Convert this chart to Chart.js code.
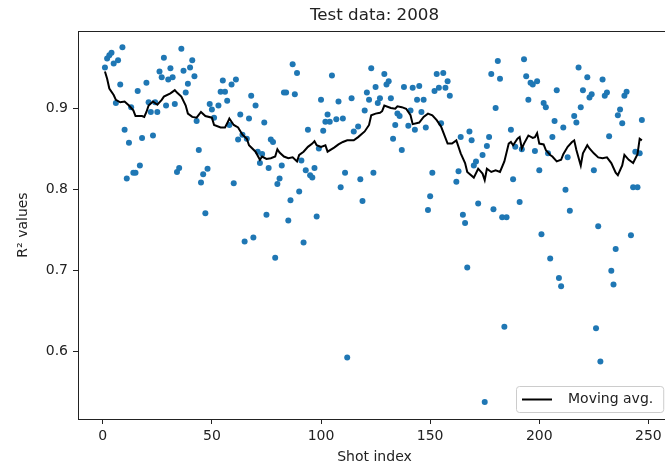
<!DOCTYPE html>
<html>
<head>
<meta charset="utf-8">
<script src="https://cdn.jsdelivr.net/npm/chart.js@4.4.1/dist/chart.umd.min.js"></script>
<style>
  html, body { margin: 0; padding: 0; background: #ffffff; overflow: hidden; width: 665px; height: 464px; }
  canvas { display: block; }
</style>
</head>
<body>
<canvas id="chart" width="680" height="464"></canvas>
<script>
// Texts
const chartTitle = 'Test data: 2008';
const xTitle = 'Shot index';
const yTitle = 'R\u00B2 values';
const avgLabel = 'Moving avg.';

// Tick labels
const xTicks = [0, 50, 100, 150, 200, 250];
const yTicks = [0.6, 0.7, 0.8, 0.9];

// Per-shot R² values
const shotIndex = [
  1, 2, 3, 4, 5, 6, 7, 8, 9, 10, 11, 12, 13, 14, 15, 16, 17, 18, 20, 21,
  22, 23, 24, 25, 26, 27, 28, 29, 30, 31, 32, 33, 34, 35, 36, 37, 38, 39, 40, 41,
  42, 43, 44, 45, 46, 47, 48, 49, 50, 51, 53, 54, 55, 56, 57, 58, 59, 60, 61, 62,
  63, 64, 65, 66, 67, 68, 69, 70, 71, 72, 73, 74, 75, 76, 77, 78, 79, 80, 81, 82,
  83, 84, 85, 86, 87, 88, 89, 90, 91, 92, 93, 94, 95, 96, 97, 98, 99, 100, 101, 102,
  103, 104, 105, 107, 108, 109, 110, 111, 112, 114, 115, 117, 118, 119, 120, 121, 122, 123, 124, 125,
  126, 127, 129, 130, 131, 132, 133, 134, 135, 136, 137, 138, 140, 141, 142, 143, 144, 145, 146, 147,
  148, 149, 150, 151, 152, 153, 154, 155, 156, 157, 158, 159, 162, 163, 164, 165, 166, 167, 168, 169,
  170, 171, 172, 174, 175, 176, 177, 178, 179, 180, 181, 182, 183, 184, 185, 187, 188, 189, 191, 192,
  193, 194, 195, 196, 197, 198, 199, 200, 201, 202, 203, 204, 205, 206, 207, 208, 209, 210, 211, 212,
  213, 214, 216, 217, 218, 219, 220, 222, 223, 224, 225, 226, 227, 228, 229, 230, 231, 232, 233, 234,
  235, 236, 237, 238, 239, 240, 242, 243, 244, 245, 246, 247
];
const r2Values = [
  0.951, 0.962, 0.966, 0.969, 0.956, 0.907, 0.960, 0.930, 0.976, 0.874, 0.814, 0.858, 0.902, 0.821, 0.821, 0.922, 0.830, 0.864, 0.932, 0.908,
  0.896, 0.867, 0.908, 0.896, 0.946, 0.939, 0.963, 0.904, 0.936, 0.950, 0.939, 0.906, 0.822, 0.827, 0.974, 0.947, 0.920, 0.931, 0.951, 0.960,
  0.940, 0.885, 0.849, 0.809, 0.819, 0.771, 0.826, 0.906, 0.899, 0.889, 0.904, 0.921, 0.935, 0.921, 0.910, 0.880, 0.930, 0.808, 0.936, 0.862,
  0.893, 0.868, 0.736, 0.863, 0.888, 0.916, 0.741, 0.904, 0.847, 0.833, 0.844, 0.883, 0.769, 0.827, 0.862, 0.859, 0.716, 0.807, 0.814, 0.830,
  0.920, 0.920, 0.762, 0.787, 0.955, 0.918, 0.944, 0.798, 0.836, 0.735, 0.824, 0.874, 0.818, 0.815, 0.827, 0.767, 0.851, 0.911, 0.873, 0.884,
  0.893, 0.884, 0.941, 0.887, 0.909, 0.803, 0.888, 0.821, 0.593, 0.913, 0.872, 0.878, 0.813, 0.786, 0.898, 0.920, 0.911, 0.950, 0.821, 0.927,
  0.907, 0.913, 0.943, 0.930, 0.934, 0.913, 0.863, 0.880, 0.894, 0.891, 0.849, 0.927, 0.879, 0.898, 0.926, 0.874, 0.911, 0.928, 0.896, 0.911,
  0.877, 0.775, 0.792, 0.821, 0.922, 0.943, 0.926, 0.882, 0.944, 0.926, 0.934, 0.916, 0.810, 0.823, 0.865, 0.769, 0.759, 0.704, 0.872, 0.861,
  0.830, 0.835, 0.783, 0.843, 0.538, 0.854, 0.865, 0.943, 0.776, 0.901, 0.959, 0.937, 0.766, 0.631, 0.766, 0.874, 0.813, 0.853, 0.785, 0.850,
  0.961, 0.940, 0.911, 0.932, 0.930, 0.848, 0.934, 0.824, 0.745, 0.907, 0.902, 0.845, 0.715, 0.865, 0.885, 0.923, 0.691, 0.681, 0.877, 0.800,
  0.840, 0.774, 0.891, 0.883, 0.951, 0.902, 0.923, 0.939, 0.914, 0.918, 0.824, 0.629, 0.755, 0.588, 0.936, 0.916, 0.920, 0.866, 0.700, 0.683,
  0.727, 0.892, 0.899, 0.882, 0.916, 0.921, 0.744, 0.803, 0.847, 0.803, 0.845, 0.886
];

// Moving average of R²
const avgIndex = [
  1, 2, 3, 5, 6, 8, 10, 12, 14, 15, 18, 19, 20, 21, 23, 25, 27, 28, 31, 33,
  34, 36, 38, 39, 41, 43, 45, 47, 50, 51, 54, 56, 57, 58, 60, 62, 64, 66, 67, 70,
  72, 73, 75, 77, 79, 80, 81, 83, 85, 87, 89, 90, 92, 94, 96, 97, 98, 100, 102, 103,
  106, 108, 110, 112, 115, 117, 120, 122, 123, 125, 127, 128, 129, 132, 134, 135, 137, 139, 141, 142,
  145, 147, 149, 151, 153, 155, 158, 160, 162, 164, 166, 167, 170, 172, 174, 175, 176, 178, 180, 182,
  184, 186, 187, 188, 190, 191, 192, 193, 195, 197, 198, 199, 200, 202, 203, 205, 206, 208, 210, 211,
  213, 215, 216, 217, 219, 220, 222, 223, 225, 227, 229, 231, 233, 235, 236, 238, 239, 241, 243, 245,
  246, 247
];
const avgValues = [
  0.946, 0.937, 0.925, 0.917, 0.911, 0.908, 0.909, 0.904, 0.898, 0.891, 0.891, 0.890, 0.896, 0.904, 0.909, 0.905, 0.911, 0.915, 0.919, 0.923,
  0.920, 0.915, 0.904, 0.894, 0.890, 0.889, 0.896, 0.891, 0.889, 0.880, 0.877, 0.877, 0.882, 0.888, 0.880, 0.877, 0.868, 0.863, 0.855, 0.847,
  0.837, 0.841, 0.838, 0.839, 0.841, 0.850, 0.846, 0.841, 0.839, 0.840, 0.835, 0.843, 0.847, 0.853, 0.857, 0.860, 0.855, 0.853, 0.855, 0.847,
  0.852, 0.856, 0.859, 0.861, 0.861, 0.865, 0.872, 0.880, 0.892, 0.894, 0.895, 0.897, 0.904, 0.901, 0.900, 0.903, 0.902, 0.900, 0.892, 0.881,
  0.883, 0.890, 0.894, 0.892, 0.886, 0.878, 0.857, 0.857, 0.861, 0.845, 0.833, 0.822, 0.815, 0.826, 0.820, 0.812, 0.826, 0.822, 0.824, 0.822,
  0.835, 0.857, 0.859, 0.855, 0.863, 0.865, 0.851, 0.857, 0.867, 0.864, 0.865, 0.870, 0.857, 0.856, 0.849, 0.843, 0.841, 0.835, 0.837, 0.844,
  0.853, 0.859, 0.861, 0.849, 0.830, 0.845, 0.855, 0.851, 0.845, 0.840, 0.839, 0.840, 0.833, 0.821, 0.818, 0.830, 0.843, 0.837, 0.833, 0.844,
  0.863, 0.861
];

const X_MIN = -11.35, X_MAX = 260.35;
const Y_MIN = 0.517, Y_MAX = 0.996;

const INK = '#222222';
Chart.defaults.font.family = '"DejaVu Sans", sans-serif';
Chart.defaults.font.size = 14;
Chart.defaults.color = INK;

const points = shotIndex.map((x, i) => ({ x, y: r2Values[i] }));
const avgLine = avgIndex.map((x, i) => ({ x, y: avgValues[i] }));

// Boxed legend in the lower-right corner of the plot area
const cornerLegend = {
  id: 'cornerLegend',
  afterDatasetsDraw(chart) {
    const { ctx, chartArea } = chart;
    const ds = chart.data.datasets[0];
    ctx.save();
    ctx.font = '14px "DejaVu Sans", sans-serif';
    const tw = ctx.measureText(ds.label).width;
    const h = 26;
    const w = 52 + tw + 10;
    const right = chartArea.right - 8;
    const bottom = chartArea.bottom - 7;
    const left = Math.round(right - w);
    const top = Math.round(bottom - h);
    ctx.beginPath();
    ctx.roundRect(left + 0.5, top + 0.5, w, h, 3);
    ctx.fillStyle = 'rgba(255,255,255,0.8)';
    ctx.fill();
    ctx.strokeStyle = '#cccccc';
    ctx.lineWidth = 1;
    ctx.stroke();
    const cy = top + h / 2 + 0.5;
    ctx.beginPath();
    ctx.moveTo(left + 6, cy);
    ctx.lineTo(left + 36, cy);
    ctx.strokeStyle = ds.borderColor;
    ctx.lineWidth = ds.borderWidth;
    ctx.stroke();
    ctx.fillStyle = INK;
    ctx.textAlign = 'left';
    ctx.textBaseline = 'middle';
    ctx.fillText(ds.label, left + 52, cy);
    ctx.restore();
  }
};

const setTicks = values => scale => { scale.ticks = values.map(v => ({ value: v })); };
const fixSize = (prop, size) => scale => { scale[prop] = size; };

new Chart(document.getElementById('chart'), {
  type: 'scatter',
  data: {
    datasets: [
      {
        type: 'line',
        label: avgLabel,
        data: avgLine,
        borderColor: '#000000',
        borderWidth: 2,
        pointRadius: 0,
        tension: 0,
        fill: false,
        order: 0
      },
      {
        label: 'R2',
        data: points,
        backgroundColor: '#1f77b4',
        borderWidth: 0,
        pointRadius: 3,
        pointHoverRadius: 3,
        order: 1
      }
    ]
  },
  options: {
    responsive: false,
    animation: false,
    devicePixelRatio: 1,
    layout: { padding: { left: 0, right: 9, top: 0, bottom: 0 } },
    plugins: {
      legend: { display: false },
      tooltip: { enabled: false },
      title: { display: false }
    },
    scales: {
      x: {
        type: 'linear',
        position: 'bottom',
        min: X_MIN,
        max: X_MAX,
        afterBuildTicks: setTicks(xTicks),
        afterFit: fixSize('height', 45),
        ticks: { padding: 4, maxRotation: 0, callback: v => String(v) },
        grid: { drawOnChartArea: false, drawTicks: true, tickLength: 5, tickColor: INK, tickWidth: 1 },
        border: { display: true, color: INK, width: 1 },
        title: { display: true, text: xTitle, font: { size: 14, lineHeight: 1 }, padding: { top: 0, bottom: 0 } }
      },
      top: {
        type: 'linear',
        position: 'top',
        min: X_MIN,
        max: X_MAX,
        afterBuildTicks: scale => { scale.ticks = []; },
        afterFit: fixSize('height', 31),
        ticks: { display: false },
        grid: { drawOnChartArea: false, drawTicks: false },
        border: { display: true, color: INK, width: 1 },
        title: { display: true, text: chartTitle, font: { size: 16.7, lineHeight: 1 }, padding: { top: 7.5, bottom: 0 } }
      },
      y: {
        type: 'linear',
        position: 'left',
        min: Y_MIN,
        max: Y_MAX,
        afterBuildTicks: setTicks(yTicks),
        afterFit: fixSize('width', 78),
        ticks: { padding: 5, callback: v => v.toFixed(1) },
        grid: { drawOnChartArea: false, drawTicks: true, tickLength: 5, tickColor: INK, tickWidth: 1 },
        border: { display: true, color: INK, width: 1 },
        title: { display: true, text: yTitle, font: { size: 14, lineHeight: 1.2 }, padding: { top: 15, bottom: 0 } }
      }
    }
  },
  plugins: [cornerLegend]
});
</script>
</body>
</html>
